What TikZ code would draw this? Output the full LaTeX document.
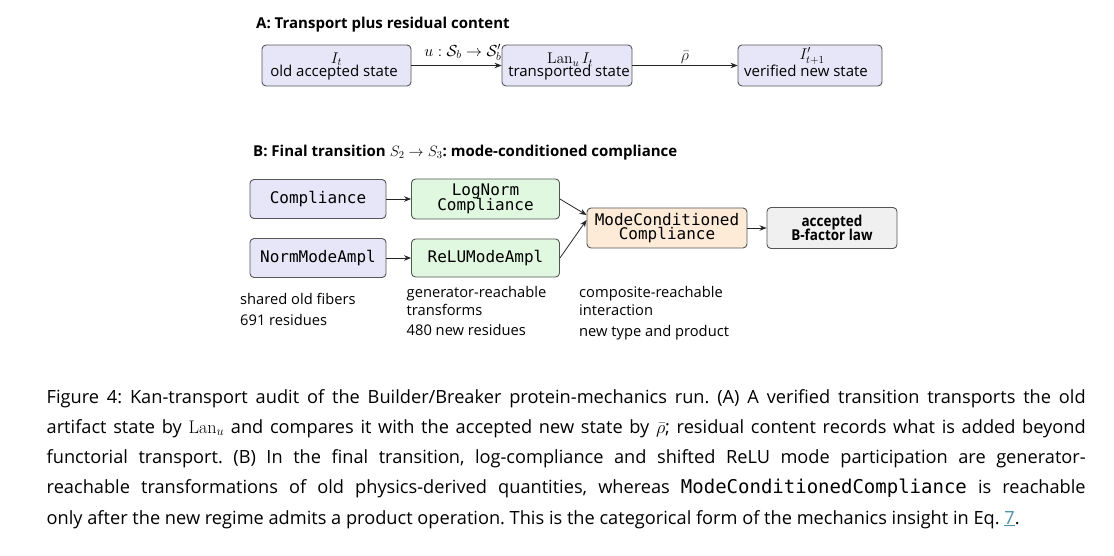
\RequirePackage{fix-cm}
\documentclass[tikz,border=0pt]{standalone}
\usepackage[no-math]{fontspec}
\setmainfont{Open Sans}
\setmonofont{DejaVu Sans Mono}
\newfontfamily\condbold{Open Sans}[FakeStretch=0.9]
\usetikzlibrary{arrows.meta}
\definecolor{lav}{HTML}{E6E6F8}
\definecolor{grn}{HTML}{E0F8E0}
\definecolor{peach}{HTML}{FDEBD8}
\definecolor{gry}{HTML}{F0F0F0}
\definecolor{bord}{HTML}{555555}
\definecolor{linkc}{HTML}{4A90A8}
\newcommand\mytightls{\lineskiplimit=-30pt\relax}
\newcommand\captt[1]{{\fontsize{19}{30}\selectfont\texttt{#1}}}
\begin{document}
\frenchspacing
\begin{tikzpicture}[x=1pt,y=-1pt,
  box/.style={draw=bord, line width=0.9pt, rounded corners=4pt, inner sep=0pt, align=center},
  monobox/.style={box, font={\fontsize{16}{14.5}\ttfamily\selectfont\mytightls}},
  boldbox/.style={box, font={\fontsize{15}{14}\condbold\bfseries\selectfont\mytightls}},
  intxt/.style={anchor=base, inner sep=0pt, font=\fontsize{15}{15}\selectfont},
  inmath/.style={anchor=base, inner sep=0pt, font=\fontsize{15.5}{15}\selectfont},
  arr/.style={-{Stealth[length=7pt,width=5.5pt]}, line width=0.8pt, black!85},
  lab/.style={inner sep=1pt, font=\fontsize{16}{16}\selectfont},
  head/.style={anchor=base west, inner sep=0pt, font=\fontsize{15}{17}\bfseries\selectfont},
  note/.style={anchor=base west, inner sep=0pt, font=\fontsize{14.7}{17}\selectfont},
  captxt/.style={anchor=base west, inner sep=0pt, font=\fontsize{18.2}{30}\selectfont}]
\useasboundingbox (0,0) rectangle (1114,556);

% Panel A
\node[head] (hA) at (256,28.3) {A: Transport plus residual content};
\node[lab, above=4pt] (l1) at (463,65.5) {$u:\mathcal{S}_b\to\mathcal{S}_b'$};
\node[box, fill=lav, minimum width=149pt, minimum height=41pt] (a1) at (336.5,65.5) {};
\node[box, fill=lav, minimum width=130pt, minimum height=41pt] (a2) at (567,65.5) {};
\node[box, fill=lav, minimum width=144pt, minimum height=41pt] (a3) at (810,65.5) {};
\node[inmath] (a1m) at (336.5,63.5) {$I_t$};
\node[intxt] (a1t) at (334,76.8) {old accepted state};
\node[inmath] (a2m) at (570,64) {$\mathrm{Lan}_u\, I_t$};
\node[intxt] (a2t) at (569,76.5) {transported state};
\node[inmath] (a3m) at (812,59.5) {$I'_{t+1}$};
\node[intxt] (a3t) at (806,76.5) {verified new state};
\draw[arr] (a1) -- (a2);
\draw[arr] (a2) -- node[lab, above=0.5pt] (l2) {$\bar\rho$} (a3);

% Panel B
\node[head] (hB) at (253,156.7) {B: Final transition $S_2\to S_3$: mode-conditioned compliance};
\node[monobox, fill=lav, minimum width=136pt, minimum height=39pt] (b1) at (318,199) {Compliance};
\node[monobox, fill=lav, minimum width=136pt, minimum height=39pt] (b2) at (318,258) {NormModeAmpl};
\node[monobox, fill=grn, minimum width=148pt, minimum height=40pt] (g1) at (485.5,199) {LogNorm\\Compliance};
\node[monobox, fill=grn, minimum width=148pt, minimum height=38pt] (g2) at (485.5,258) {ReLUModeAmpl};
\node[monobox, fill=peach, minimum width=160pt, minimum height=40pt] (m) at (667,228) {ModeConditioned\\Compliance};
\node[boldbox, fill=gry, minimum width=130pt, minimum height=41pt] (f) at (832,228) {accepted\\B-factor law};
\draw[arr] (b1) -- (g1);
\draw[arr] (b2) -- (g2);
\draw[arr] (g1.east) -- ([yshift=13pt]m.west);
\draw[arr] (g2.east) -- ([yshift=8pt]m.west);
\draw[arr] (m) -- (f);

% notes
\node[note] (n1) at (240,305) {shared old fibers};
\node[note] (n2) at (240,325) {691 residues};
\node[note] (n3) at (406.5,298) {generator-reachable};
\node[note] (n4) at (406.5,315) {transforms};
\node[note] (n5) at (406.5,335) {480 new residues};
\node[note] (n6) at (579,298) {composite-reachable};
\node[note] (n7) at (579,315) {interaction};
\node[note] (n8) at (579,336) {new type and product};

% caption
\node[captxt] (c1) at (46.5,403) {\makebox[1039pt][s]{Figure 4: Kan-transport audit of the Builder/Breaker protein-mechanics run. (A) A verified transition transports the old}};
\node[captxt] (c2) at (46.5,433) {\makebox[1039pt][s]{artifact state by $\mathrm{Lan}_u$ and compares it with the accepted new state by $\bar\rho$; residual content records what is added beyond}};
\node[captxt] (c3) at (46.5,463.5) {\makebox[1039pt][s]{functorial transport. (B) In the final transition, log-compliance and shifted ReLU mode participation are generator-}};
\node[captxt] (c4) at (46.5,493.5) {\makebox[1039pt][s]{reachable transformations of old physics-derived quantities, whereas \captt{ModeConditionedCompliance} is reachable}};
\node[captxt] (c5) at (46.5,524) {only after the new regime admits a product operation. This is the categorical form of the mechanics insight in Eq.~\textcolor{linkc}{\underline{7}}.};
\end{tikzpicture}
\end{document}
